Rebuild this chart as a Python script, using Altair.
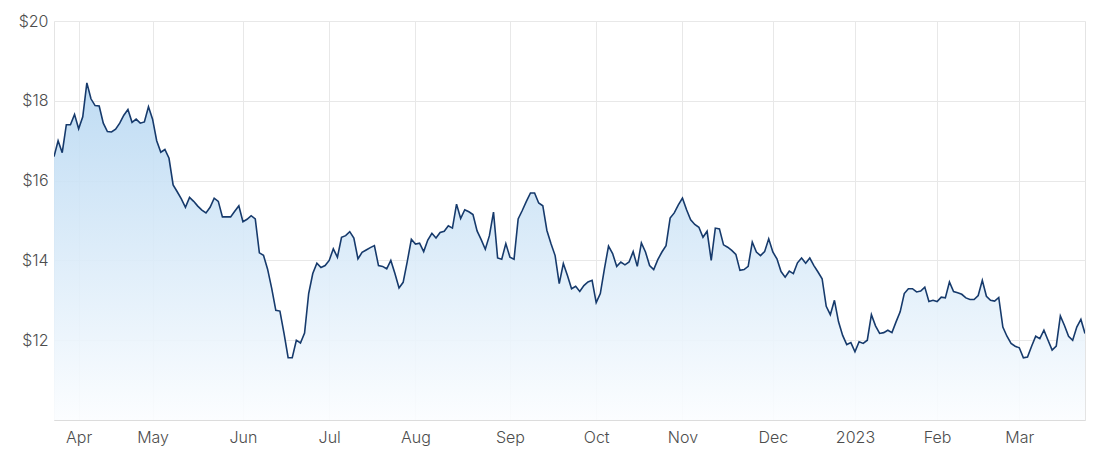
import altair as alt
import pandas as pd

# Daily closing prices (trading days, 24 Mar 2022 - 23 Mar 2023)
prices = [
    16.6, 17.0, 16.7, 17.4, 17.4, 17.66, 17.3, 17.6, 18.45, 18.05,
    17.88, 17.87, 17.44, 17.23, 17.22, 17.29, 17.44, 17.64, 17.78, 17.46,
    17.54, 17.44, 17.47, 17.85, 17.54, 17.0, 16.71, 16.78, 16.56, 15.89,
    15.72, 15.54, 15.33, 15.58, 15.48, 15.36, 15.26, 15.19, 15.33, 15.56,
    15.48, 15.09, 15.09, 15.09, 15.23, 15.37, 14.97, 15.03, 15.12, 15.04,
    14.19, 14.13, 13.78, 13.3, 12.75, 12.73, 12.17, 11.56, 11.56, 12.0,
    11.93, 12.18, 13.17, 13.67, 13.93, 13.82, 13.87, 14.0, 14.29, 14.08,
    14.58, 14.62, 14.72, 14.56, 14.04, 14.2, 14.26, 14.32, 14.37, 13.87,
    13.85, 13.79, 14.0, 13.67, 13.31, 13.45, 13.97, 14.53, 14.41, 14.43,
    14.22, 14.51, 14.68, 14.56, 14.7, 14.73, 14.87, 14.81, 15.41, 15.05,
    15.27, 15.22, 15.15, 14.74, 14.52, 14.28, 14.62, 15.21, 14.06, 14.03,
    14.42, 14.08, 14.03, 15.04, 15.25, 15.48, 15.69, 15.69, 15.44, 15.37,
    14.75, 14.42, 14.12, 13.42, 13.92, 13.62, 13.29, 13.35, 13.22, 13.37,
    13.46, 13.5, 12.94, 13.17, 13.79, 14.36, 14.17, 13.85, 13.96, 13.89,
    13.96, 14.22, 13.85, 14.44, 14.21, 13.87, 13.77, 14.02, 14.21, 14.37,
    15.06, 15.19, 15.39, 15.56, 15.27, 15.02, 14.9, 14.83, 14.58, 14.73,
    14.0, 14.81, 14.79, 14.39, 14.33, 14.25, 14.15, 13.75, 13.77, 13.85,
    14.46, 14.21, 14.12, 14.22, 14.54, 14.21, 14.04, 13.72, 13.58, 13.73,
    13.67, 13.94, 14.06, 13.93, 14.06, 13.87, 13.71, 13.54, 12.85, 12.64,
    13.0, 12.46, 12.12, 11.89, 11.94, 11.71, 11.96, 11.92, 12.0, 12.64,
    12.36, 12.17, 12.19, 12.25, 12.19, 12.46, 12.71, 13.17, 13.29, 13.29,
    13.21, 13.23, 13.33, 12.97, 13.0, 12.97, 13.08, 13.06, 13.46, 13.22,
    13.19, 13.15, 13.06, 13.02, 13.02, 13.12, 13.5, 13.1, 13.0, 12.98,
    13.07, 12.33, 12.1, 11.92, 11.85, 11.81, 11.56, 11.58, 11.85, 12.1,
    12.04, 12.25, 12.0, 11.75, 11.85, 12.61, 12.37, 12.1, 12.0, 12.33,
    12.52, 12.17,
]

# Month labels and the trading-day index where each month starts
month_labels = ["Apr", "May", "Jun", "Jul", "Aug", "Sep", "Oct", "Nov", "Dec", "2023", "Feb", "Mar"]
month_start_idx = [6, 24, 46, 67, 88, 111, 132, 153, 175, 195, 215, 235]
y_ticks = [12, 14, 16, 18, 20]
y_floor = 10

df = pd.DataFrame({"day": list(range(len(prices))), "price": prices})

FONT = "Inter"
GRID = "#e8e8e8"
LABEL = "#4d4d4d"

x_enc = alt.X(
    "day:Q",
    scale=alt.Scale(domain=[0, len(prices) - 1], nice=False, zero=False),
    axis=alt.Axis(
        values=month_start_idx,
        labelExpr=f"{month_labels}[indexof({month_start_idx}, datum.value)]",
        title=None,
        grid=True,
        gridColor=GRID,
        ticks=False,
        domainColor="#dcdcdc",
        labelPadding=9,
        labelFontSize=16,
        labelColor=LABEL,
        labelFont=FONT,
        labelFontWeight=300,
        labelFlush=False,
    ),
)
y_enc = alt.Y(
    "price:Q",
    scale=alt.Scale(domain=[y_floor, 20], nice=False, zero=False),
    axis=alt.Axis(
        values=y_ticks,
        labelExpr="'$' + datum.value",
        title=None,
        grid=True,
        gridColor=GRID,
        ticks=False,
        domain=False,
        labelPadding=6,
        labelFontSize=16,
        labelColor=LABEL,
        labelFont=FONT,
        labelFontWeight=300,
    ),
)

base = alt.Chart(df).encode(x=x_enc, y=y_enc)

area = base.mark_area(
    fill=alt.Gradient(
        gradient="linear",
        stops=[
            alt.GradientStop(color="#b8d8f2", offset=0),
            alt.GradientStop(color="#fbfdff", offset=1),
        ],
        x1=0, x2=0, y1=0, y2=1,
    ),
    fillOpacity=0.9,
    clip=True,
).encode(y2=alt.datum(y_floor))
line = base.mark_line(color="#163a6c", strokeWidth=1.6, clip=True)

chart = (
    alt.layer(area, line)
    .properties(
        width=1031,
        height=399,
        autosize=alt.AutoSizeParams(type="none"),
        padding={"left": 46, "top": 13, "right": 14, "bottom": 27},
    )
    .configure_view(stroke="#e4e4e4")
)

chart.save("out.html", embed_options={"renderer": "svg", "actions": False})
